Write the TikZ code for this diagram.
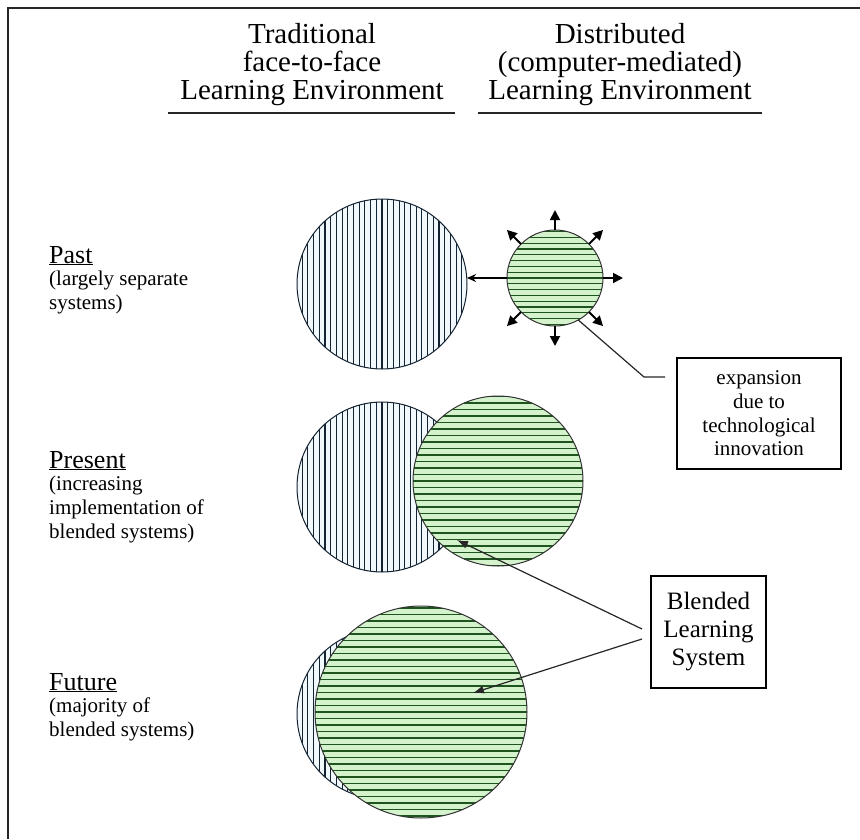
\documentclass[tikz,border=0pt]{standalone}
\usepackage{fontspec}
\setmainfont{Liberation Serif}
\usetikzlibrary{arrows.meta}

\definecolor{tradfill}{RGB}{242,249,252}
\definecolor{tradline}{RGB}{20,35,50}
\definecolor{distfill}{RGB}{212,242,204}
\definecolor{distline}{RGB}{30,85,30}

\tikzset{
  % traditional system: vertical hatching
  trad/.style={circle, draw=tradline, line width=1pt, fill=tradfill,
    inner sep=0pt, outer sep=0pt, minimum size=#1,
    path picture={\foreach \k in {-20,...,20}
      \draw[tradline, line width=1.1pt]
        ([xshift=\k*5.7pt]path picture bounding box.north) --
        ([xshift=\k*5.7pt]path picture bounding box.south);}},
  % distributed system: horizontal hatching
  dist/.style 2 args={circle, draw=black!80, line width=1pt, fill=distfill,
    inner sep=0pt, outer sep=0pt, minimum size=#1,
    path picture={\foreach \k in {-20,...,20}
      \draw[distline, line width=1.2pt]
        ([xshift=-120pt, yshift=\k*#2]path picture bounding box.center) --
        ([xshift=120pt, yshift=\k*#2]path picture bounding box.center);}},
  head/.style={align=center, inner sep=0pt, font=\fontsize{29}{28}\selectfont},
  headrule/.style={line width=2.6pt, black!85},
  era/.style={anchor=base west, inner sep=0pt, font=\fontsize{26}{26}\selectfont},
  erasub/.style={anchor=north west, align=left, inner sep=0pt,
    font=\fontsize{21}{24}\selectfont},
  callout/.style={draw, line width=1.6pt, align=center, inner sep=0pt},
  lead/.style={line width=1.2pt, black!85},
  spread/.style={line width=1.8pt, -{Triangle[length=10pt,width=10pt]}},
}

\begin{document}
\begin{tikzpicture}[x=1pt, y=-1pt]
\useasboundingbox (0,0) rectangle (860,839);

% frame
\draw[line width=1.6pt, black!85] (8,839) -- (8,8) -- (860,8);

% column heads
\node[head] (tradHead) at (312,65) {Traditional\\face-to-face\\Learning Environment};
\node[head] (distHead) at (620,65) {Distributed\\(computer-mediated)\\Learning Environment};
\draw[headrule] (168,113) -- (455,113);
\draw[headrule] (478,113) -- (762,113);

% row labels
\node[era] (pastLbl) at (49,263) {\underline{Past}};
\node[erasub] (pastSub) at (49,271) {(largely separate\\systems)};
\node[era] (presLbl) at (49,468) {\underline{Present}};
\node[erasub] (presSub) at (49,476) {(increasing\\implementation of\\blended systems)};
\node[era] (futLbl) at (49,690) {\underline{Future}};
\node[erasub] (futSub) at (49,698) {(majority of\\blended systems)};

% past
\node[trad=170pt] (pastT) at (382,284) {};
\node[dist={96pt}{5.8pt}] (pastD) at (555,278) {};
\draw[line width=1.8pt, -{Stealth[length=9pt,width=8pt]}] (pastD.west) -- (pastD.west -| pastT.east);
\foreach \a in {0,45,90,135,225,270,315}
  \draw[spread] (pastD.\a) -- ++(\a:20pt);

% present
\node[trad=170pt] (presT) at (382,487) {};
\node[dist={170pt}{6.5pt}] (presD) at (498,481) {};

% future
\node[trad=170pt] (futT) at (382,714) {};
\node[dist={212pt}{6.5pt}] (futD) at (421,712) {};

% callouts
\node[callout, minimum width=164pt, minimum height=111pt,
  font=\fontsize{21}{23.7}\selectfont] (expBox) at (759,413.5)
  {expansion\\due to\\technological\\innovation};
\coordinate (expBend) at (644,377);
\coordinate (expEnd) at (665,377);
\draw[lead] (pastD.-61) -- (expBend) -- (expEnd);

\node[callout, minimum width=115pt, minimum height=112pt,
  font=\fontsize{25}{28}\selectfont] (blendBox) at (708.5,632)
  {Blended\\Learning\\System};
\coordinate (blendA) at (642,629);
\coordinate (blendB) at (642,639);
\coordinate (presTip) at (457,540);
\coordinate (futTip) at (473,693);
\draw[lead, -{Latex[length=11pt,width=8pt]}] (blendA) -- (presTip);
\draw[lead, -{Latex[length=11pt,width=8pt]}] (blendB) -- (futTip);
\end{tikzpicture}
\end{document}
